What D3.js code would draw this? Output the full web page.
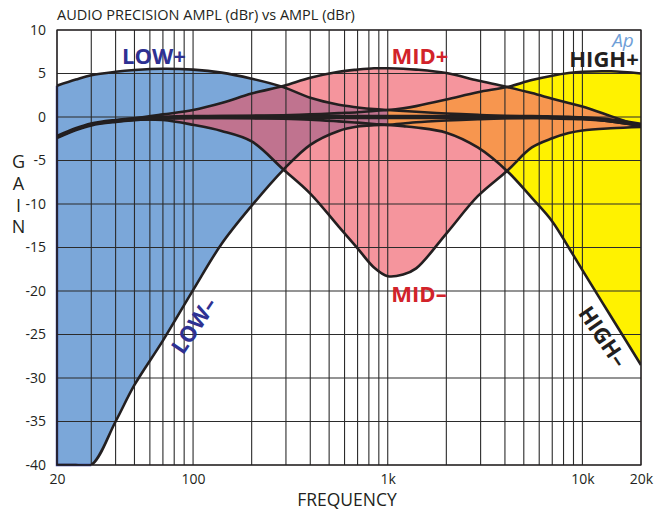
<!DOCTYPE html>
<html><head><meta charset="utf-8">
<script src="https://cdn.jsdelivr.net/npm/d3@7"></script>
<style>body{margin:0;background:#fff} svg{display:block}</style></head>
<body>
<svg id="c" width="666" height="511"></svg>
<script>
// ---- data ----
const freqs     = [20, 25, 30, 40, 50, 70, 100, 140, 200, 290, 400, 560, 700, 850, 1000, 1200, 1400, 2000, 2900, 4100, 5500, 7000, 8500, 10000, 14000, 20000];
const lowPlus   = [3.6, 4.3, 4.8, 5.2, 5.4, 5.55, 5.45, 5.1, 4.4, 3.45, 2.2, 1.4, 1.1, 0.9, 0.8, 0.7, 0.6, 0.4, 0.25, 0.12, 0.05, 0.0, -0.05, -0.15, -0.45, -1.0];
const lowMinus  = [-40, -40, -40, -35.0, -30.8, -25.7, -19.9, -14.6, -10.2, -6.1, -3.2, -1.6, -1.1, -0.95, -0.9, -0.75, -0.6, -0.4, -0.25, -0.15, -0.1, -0.1, -0.15, -0.2, -0.5, -1.0];
const midPlus   = [-2.3, -1.4, -0.85, -0.4, -0.15, 0.3, 0.8, 1.6, 2.7, 3.55, 4.5, 5.2, 5.45, 5.6, 5.6, 5.55, 5.45, 5.05, 4.2, 3.45, 2.75, 2.1, 1.6, 1.2, 0.1, -1.1];
const midMinus  = [-2.3, -1.4, -0.85, -0.45, -0.3, -0.35, -0.9, -1.6, -2.8, -6.0, -8.8, -12.6, -15.1, -17.3, -18.3, -18.1, -17.4, -13.4, -9.1, -6.2, -3.5, -2.45, -1.85, -1.55, -1.3, -1.15];
const highPlus  = [-2.3, -1.4, -0.85, -0.45, -0.25, -0.05, 0.05, 0.1, 0.15, 0.2, 0.3, 0.45, 0.55, 0.7, 0.8, 1.0, 1.25, 2.0, 2.85, 3.45, 4.25, 4.75, 5.05, 5.2, 5.25, 5.0];
const highMinus = [-2.3, -1.4, -0.85, -0.5, -0.3, -0.15, -0.1, -0.12, -0.15, -0.2, -0.3, -0.5, -0.65, -0.8, -0.9, -1.05, -1.2, -1.8, -3.5, -6.2, -9.3, -12.0, -15.0, -17.6, -22.9, -28.5];
const flat      = [-2.3, -1.4, -0.85, -0.45, -0.25, -0.08, 0, 0, 0, 0, 0, 0, 0, 0, 0, 0, 0, 0, 0, 0, 0, -0.05, -0.1, -0.15, -0.4, -0.9];

const gridFreqs  = [20, 30, 40, 50, 60, 70, 80, 90, 100, 200, 300, 400, 500, 600, 700, 800, 900, 1000, 2000, 3000, 4000, 5000, 6000, 7000, 8000, 9000, 10000, 20000];
const xTickVals  = [20, 100, 1000, 10000, 20000];
const xTickNames = ["20", "100", "1k", "10k", "20k"];
const yTickVals  = [10, 5, 0, -5, -10, -15, -20, -25, -30, -35, -40];
const splitFreq  = 1000;

// ---- drawing ----
const svg = d3.select("#c");
const x = d3.scaleLog().domain([20, 20000]).range([57, 641]);
const y = d3.scaleLinear().domain([-40, 10]).range([465, 30]);
const FONT = "'Open Sans', 'Noto Sans', sans-serif";
const INK = "#231f20";
const CURVE = d3.curveCatmullRom.alpha(0.5);

const pts = arr => arr.map((g, i) => ({f: freqs[i], g}));
const line = d3.line().x(d => x(d.f)).y(d => y(d.g)).curve(CURVE);
const iSplit = freqs.indexOf(splitFreq);
function areaD(up, lo, i0, i1) {
  const data = freqs.slice(i0, i1 + 1).map((f, k) => ({f, up: up[i0 + k], lo: lo[i0 + k]}));
  return d3.area().x(d => x(d.f)).y0(d => y(d.lo)).y1(d => y(d.up)).curve(CURVE)(data);
}
const blueD   = areaD(lowPlus, lowMinus, 0, iSplit);
const yellowD = areaD(highPlus, highMinus, iSplit, freqs.length - 1);
const pinkD   = areaD(midPlus, midMinus, 0, freqs.length - 1);

const defs = svg.append("defs");
defs.append("clipPath").attr("id", "cBlue").append("path").attr("d", blueD);
defs.append("clipPath").attr("id", "cYellow").append("path").attr("d", yellowD);
defs.append("clipPath").attr("id", "cPlot").append("rect")
  .attr("x", x(20)).attr("y", y(10)).attr("width", x(20000) - x(20)).attr("height", y(-40) - y(10));

const fills = svg.append("g").attr("clip-path", "url(#cPlot)");
fills.append("path").attr("d", blueD).attr("fill", "#7ba7d9");
fills.append("path").attr("d", yellowD).attr("fill", "#fff200");
fills.append("path").attr("d", pinkD).attr("fill", "#f5959d");
fills.append("g").attr("clip-path", "url(#cBlue)").append("path").attr("d", pinkD).attr("fill", "#c0738f");
fills.append("g").attr("clip-path", "url(#cYellow)").append("path").attr("d", pinkD).attr("fill", "#f7964f");

// navy edge of the blue band at the left and bottom
svg.append("path")
  .attr("d", d3.line().x(d => x(d.f)).y(d => y(d.g))([
    {f: freqs[0], g: lowPlus[0]}, {f: freqs[0], g: lowMinus[0]}, {f: freqs[2], g: lowMinus[2]}]))
  .attr("fill", "none").attr("stroke", "#2e3192").attr("stroke-width", 2.4);

// grid
const grid = svg.append("g").attr("stroke", "#2b2b2b").attr("stroke-width", 1.1);
grid.selectAll("line.v").data(gridFreqs).join("line")
  .attr("x1", d => x(d)).attr("x2", d => x(d)).attr("y1", y(10)).attr("y2", y(-40));
grid.selectAll("line.h").data(yTickVals).join("line")
  .attr("x1", x(20)).attr("x2", x(20000)).attr("y1", d => y(d)).attr("y2", d => y(d));

// curves
const curves = svg.append("g").attr("clip-path", "url(#cPlot)").attr("fill", "none")
  .attr("stroke", INK).attr("stroke-linejoin", "round");
curves.append("path").attr("d", line(pts(flat))).attr("stroke-width", 4.6);
[lowPlus, lowMinus, midPlus, midMinus, highPlus, highMinus].forEach(s =>
  curves.append("path").attr("d", line(pts(s))).attr("stroke-width", 2.6));

// frame
svg.append("rect").attr("x", x(20)).attr("y", y(10)).attr("width", x(20000) - x(20)).attr("height", y(-40) - y(10))
  .attr("fill", "none").attr("stroke", INK).attr("stroke-width", 1.2);

// axes
const yAxis = svg.append("g").attr("transform", `translate(${x(20)},0)`)
  .call(d3.axisLeft(y).tickValues(yTickVals).tickSize(0).tickPadding(11).tickFormat(d => String(d)));
yAxis.select(".domain").remove();
yAxis.selectAll("text").attr("font-family", FONT).attr("font-size", 14).attr("fill", INK);

const xAxis = svg.append("g").attr("transform", `translate(0,${y(-40)})`)
  .call(d3.axisBottom(x).tickValues(xTickVals).tickSize(0).tickPadding(9).tickFormat((d, i) => xTickNames[i]));
xAxis.select(".domain").remove();
xAxis.selectAll("text").attr("font-family", FONT).attr("font-size", 14).attr("fill", INK);

// titles
svg.append("text").attr("x", 57).attr("y", 20).text("AUDIO PRECISION AMPL (dBr) vs AMPL (dBr)")
  .attr("font-family", FONT).attr("font-size", 14.5).attr("fill", INK);
svg.append("text").attr("x", 347).attr("y", 505.5).attr("text-anchor", "middle").text("FREQUENCY")
  .attr("font-family", FONT).attr("font-size", 17.5).attr("fill", INK);
["G", "A", "I", "N"].forEach((c, i) =>
  svg.append("text").attr("x", 18.5).attr("y", 168 + i * 21.8).attr("text-anchor", "middle").text(c)
    .attr("font-family", FONT).attr("font-size", 18).attr("fill", INK));

// band labels
function label(t, cx, cy, color, rot, size) {
  svg.append("text").attr("transform", `translate(${cx},${cy}) rotate(${rot || 0})`)
    .attr("text-anchor", "middle").attr("dominant-baseline", "central")
    .attr("font-family", FONT).attr("font-weight", 700).attr("font-size", size || 22)
    .attr("fill", color).text(t);
}
label("LOW+", 154, 55, "#2e3192");
label("MID+", 420, 55, "#d2232a");
label("HIGH+", 604, 58, INK);
label("MID\u2013", 419, 293, "#d2232a");
label("LOW\u2013", 193, 325, "#2e3192", -56);
label("HIGH\u2013", 604, 336, INK, 56);
svg.append("text").attr("x", 623).attr("y", 47).attr("text-anchor", "middle").text("Ap")
  .attr("font-family", FONT).attr("font-style", "italic").attr("font-size", 19).attr("fill", "#6f9fd8");
</script>
</body></html>
